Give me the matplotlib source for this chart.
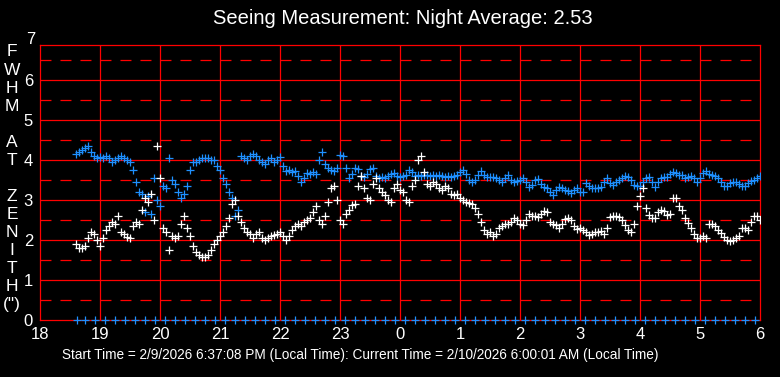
import matplotlib
matplotlib.use("Agg")
import matplotlib.pyplot as plt
import numpy as np

plt.rcParams['font.family'] = ['Liberation Sans', 'DejaVu Sans']
plt.rcParams['lines.scale_dashes'] = False

# --- data (hours after midnight of 2/9, 24 = 0h next day) ---
t_start, t_end = 18.60, 30.00

blue_vals = [
    4.15, 4.2, 4.25, 4.3, 4.35, 4.2, 4.1, 4.05,
    4.08, 4.05, 4.1, 4.05, 3.95, 4.0, 4.05, 4.1, 4.05, 4.0,
    3.95, 3.75, 3.45, 3.2, 3.15, 2.7, 3.1, 2.65, 3.55, 3.0,
    2.85, 3.35, 3.3, 4.05, 3.5, 3.4, 3.2, 3.05, 3.15, 3.35,
    3.75, 3.95, 3.95, 4.0, 4.05, 4.05, 4.05, 4.0, 4.0, 3.85,
    3.75, 3.55, 3.4, 3.2, 3.05, 2.6, 2.75, 4.1, 4.05, 4.0,
    4.1, 4.15, 4.1, 4.0, 3.95, 3.9, 4.0, 4.05, 3.95, 4.0,
    4.08, 3.85, 3.72, 3.75, 3.7, 3.72, 3.6, 3.45, 3.55, 3.68,
    3.65, 3.7, 3.65, 4.0, 4.2, 3.9, 3.8, 3.75, 3.72, 3.8,
    4.12, 4.1, 3.8, 3.55, 3.65, 3.8, 3.78, 3.6, 3.58, 3.65,
    3.78, 3.8, 3.6, 3.55, 3.58, 3.56, 3.6, 3.65, 3.67, 3.6,
    3.58, 3.6, 3.62, 3.75, 3.7, 3.6, 3.62, 3.6, 3.62, 3.63,
    3.6, 3.62, 3.6, 3.63, 3.6, 3.58, 3.6, 3.58, 3.6, 3.62,
    3.7, 3.75, 3.65, 3.5, 3.45, 3.5, 3.62, 3.72, 3.62, 3.58,
    3.57, 3.57, 3.55, 3.5, 3.45, 3.55, 3.62, 3.5, 3.45, 3.47,
    3.5, 3.55, 3.45, 3.33, 3.38, 3.5, 3.52, 3.4, 3.33, 3.3,
    3.2, 3.12, 3.25, 3.33, 3.3, 3.25, 3.22, 3.18, 3.25, 3.3,
    3.2, 3.2, 3.43, 3.35, 3.3, 3.3, 3.3, 3.32, 3.45, 3.55,
    3.42, 3.37, 3.45, 3.5, 3.55, 3.6, 3.58, 3.5, 3.38, 3.35,
    3.35, 3.45, 3.55, 3.58, 3.45, 3.33, 3.45, 3.55, 3.58, 3.58,
    3.65, 3.7, 3.68, 3.62, 3.62, 3.55, 3.58, 3.6, 3.55, 3.45,
    3.55, 3.68, 3.72, 3.65, 3.62, 3.6, 3.55, 3.45, 3.35, 3.35,
    3.42, 3.45, 3.45, 3.4, 3.35, 3.35, 3.42, 3.47, 3.5, 3.55,
    3.6,
]

white_vals = [
    1.9, 1.8, 1.8, 1.85, 2.05, 2.2, 2.15, 2.0,
    1.85, 2.05, 2.25, 2.35, 2.45, 2.4, 2.6, 2.2, 2.15, 2.08,
    2.05, 2.35, 2.45, 2.4, 2.75, 3.05, 2.95, 3.15, 2.5, 4.35,
    3.55, 2.3, 2.2, 1.75, 2.1, 2.05, 2.1, 2.4, 2.6, 2.3,
    2.1, 1.85, 1.7, 1.62, 1.58, 1.57, 1.62, 1.75, 1.9, 2.0,
    2.1, 2.2, 2.35, 2.55, 2.9, 3.0, 2.6, 2.45, 2.3, 2.2,
    2.15, 2.05, 2.15, 2.2, 2.05, 2.0, 2.05, 2.1, 2.12, 2.15,
    2.2, 2.1, 2.0, 2.1, 2.25, 2.35, 2.4, 2.35, 2.45, 2.5,
    2.55, 2.7, 2.85, 2.5, 2.4, 2.6, 2.95, 3.3, 3.35, 3.0,
    2.5, 2.4, 2.65, 2.75, 2.88, 2.9, 3.35, 3.6, 3.3, 3.05,
    3.0, 3.4, 3.55, 3.3, 3.2, 3.12, 3.0, 2.95, 3.3, 3.4,
    3.25, 3.2, 3.0, 2.95, 3.35, 3.5, 4.0, 4.1, 3.7, 3.4,
    3.35, 3.45, 3.4, 3.3, 3.25, 3.35, 3.3, 3.15, 3.12, 3.15,
    3.05, 3.0, 2.95, 2.92, 2.9, 2.8, 2.65, 2.45, 2.25, 2.15,
    2.2, 2.1, 2.15, 2.3, 2.35, 2.4, 2.4, 2.45, 2.55, 2.5,
    2.4, 2.38, 2.5, 2.65, 2.6, 2.6, 2.58, 2.65, 2.72, 2.7,
    2.45, 2.4, 2.38, 2.3, 2.4, 2.52, 2.55, 2.5, 2.35, 2.28,
    2.3, 2.25, 2.2, 2.12, 2.15, 2.2, 2.2, 2.22, 2.15, 2.3,
    2.58, 2.6, 2.6, 2.58, 2.5, 2.37, 2.25, 2.2, 2.4, 2.85,
    3.1, 3.3, 2.8, 2.62, 2.55, 2.55, 2.7, 2.75, 2.72, 2.62,
    2.65, 3.05, 3.05, 2.85, 2.75, 2.55, 2.42, 2.3, 2.15, 2.05,
    2.05, 2.1, 2.05, 2.4, 2.4, 2.35, 2.25, 2.18, 2.08, 2.0,
    1.98, 2.0, 2.05, 2.1, 2.3, 2.3, 2.25, 2.45, 2.6, 2.6,
    2.5,
]

# 10-minute markers drawn along the zero line
zero_times = [18.62] + list(np.arange(18.75, 30.01, 1 / 6))

x_ticks = [18, 19, 20, 21, 22, 23, 24, 25, 26, 27, 28, 29, 30]
x_labels = ["18", "19", "20", "21", "22", "23", "0", "1", "2", "3", "4", "5", "6"]
y_ticks = [0, 1, 2, 3, 4, 5, 6]

title = "Seeing Measurement: Night Average: 2.53"
ylabel_chars = ["F", "W", "H", "M", "", "A", "T", "", "Z", "E", "N", "I", "T", "H", '(")']
footer = ("Start Time = 2/9/2026 6:37:08 PM (Local Time): "
          "Current Time = 2/10/2026 6:00:01 AM (Local Time)")

blue_t = np.linspace(t_start, t_end, len(blue_vals))
white_t = np.linspace(t_start, t_end, len(white_vals))

W, H = 780, 377
fig = plt.figure(figsize=(W / 100, H / 100), dpi=100, facecolor="black")
ax = fig.add_axes([40 / W, (H - 320) / H, 720 / W, 275 / H], facecolor="black")
ax.set_xlim(18, 30)
ax.set_ylim(0, 6.875)

red = "#ff0000"
for y in range(1, 7):
    ax.axhline(y, color=red, lw=0.9, zorder=1)
for y in np.arange(0.5, 7, 1.0):
    ax.axhline(y, color=red, lw=0.9, dashes=(7.9, 6.5), zorder=1)
for x in x_ticks[1:-1]:
    ax.axvline(x, color=red, lw=0.9, zorder=1)
for s in ax.spines.values():
    s.set_color(red)
    s.set_linewidth(0.9)

ax.plot(blue_t, blue_vals, ls="none", marker="+", ms=5.5, mew=0.9,
        color="#1e90ff", zorder=3)
ax.plot(white_t, white_vals, ls="none", marker="+", ms=5.5, mew=0.9,
        color="white", zorder=4)
ax.plot(zero_times, np.zeros(len(zero_times)), ls="none", marker="+", ms=5.5,
        mew=0.9, color="#1e90ff", zorder=5, clip_on=False)

ax.set_xticks(x_ticks)
ax.set_xticklabels(x_labels)
ax.set_yticks(y_ticks)
ax.tick_params(length=0, colors="white", labelsize=12, pad=5)
ax.text(-0.007, 7, "7", transform=ax.get_yaxis_transform(), ha="right",
        va="center", color="white", fontsize=12, clip_on=False)

fig.text(403 / W, 1 - 18 / H, title, ha="center", va="center", color="white",
         fontsize=14.5)
for i, ch in enumerate(ylabel_chars):
    if ch:
        fig.text(12 / W, 1 - (52 + i * 18.07) / H, ch, ha="center", va="center",
                 color="white", fontsize=12.5)
fig.text(360 / W, 1 - 355 / H, footer, ha="center", va="center", color="white",
         fontsize=9.8, family=["Liberation Sans Narrow", "Liberation Sans", "DejaVu Sans"])

fig.savefig("out.png", dpi=100, facecolor="black")
